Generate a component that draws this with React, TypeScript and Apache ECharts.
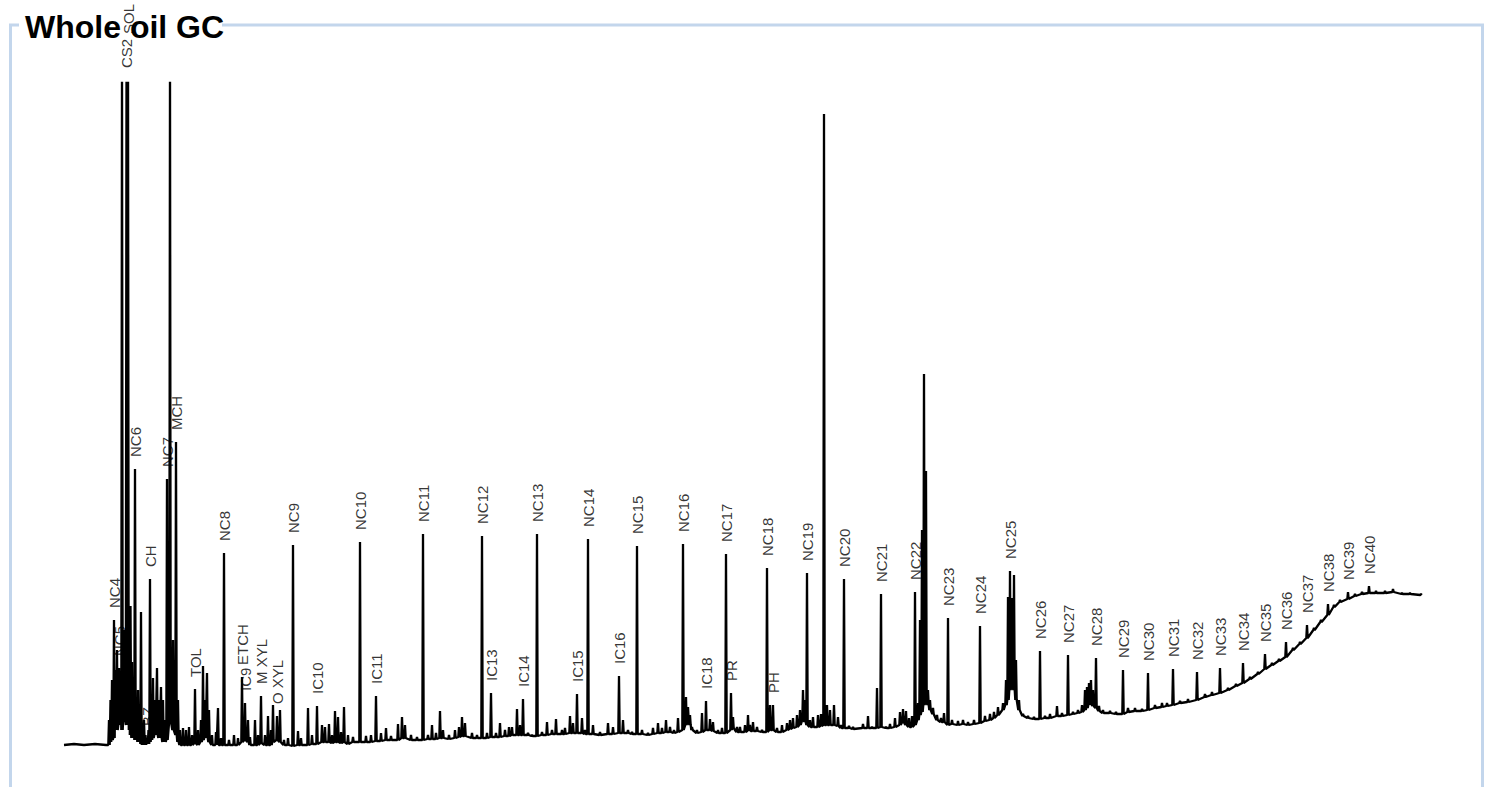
import React, { useEffect, useRef } from "react";
import * as echarts from "echarts";

// Whole-oil GC trace. x: retention (scan units), y: detector response (arbitrary units)
const TITLE = "Whole oil GC";

// quiet baseline before the first peaks: [x, y]
const leadIn: [number, number][] = [
  [4, 5], [14, 6], [24, 5], [35, 6], [46, 5],
];

// peaks: [x, base, top, label?]
const peaks: [number, number, number, string?][] = [
  [49, 5, 30], [50.5, 8, 50], [52, 10, 70], [54, 12, 130, "NC4"], [55.5, 25, 80], [57, 20, 100],
  [59, 25, 82, "NC5"], [60.5, 30, 75], [62, 20, 690], [64, 35, 120], [66.5, 25, 670, "CS2"],
  [68, 30, 704, "SOL"], [69.5, 20, 60], [70.5, 15, 144], [72, 12, 88], [73.5, 15, 70],
  [75, 10, 281, "NC6"], [76.5, 10, 45], [78, 8, 60], [79.5, 8, 30], [81, 6, 138], [82.5, 5, 25],
  [84, 5, 30], [85.5, 5, 15], [87, 7, 12, "BZ"], [88.5, 6, 20],
  [90, 8, 171, "CH"], [91.5, 10, 40], [93, 12, 72], [95, 15, 50], [97, 15, 82], [99, 12, 50], [101, 12, 63],
  [103, 8, 50], [105, 8, 30], [107, 10, 271, "NC7"], [110, 30, 690], [113, 20, 110], [116, 15, 308, "MCH"],
  [118, 8, 50], [120, 5, 20], [123, 5, 22], [126, 5, 20], [129, 5, 23], [132, 5, 15],
  [135, 7, 61, "TOL"], [138, 5, 20], [141, 8, 30], [143, 10, 84], [145, 12, 50], [147, 12, 77],
  [149, 8, 40], [152, 5, 15], [156, 5, 18], [158, 5, 42], [161, 5, 12], [164, 5, 197, "NC8"],
  [169, 5, 10], [174, 5, 15], [178, 5, 12], [182, 8, 73, "ETCH"], [185, 10, 47, "IC9"],
  [188, 8, 30], [190, 5, 13], [195, 5, 30], [198, 5, 15], [201, 7, 54, "M XYL"], [205, 5, 15],
  [208, 5, 34], [211, 5, 20], [213, 8, 45], [217, 10, 34, "O XYL"], [220, 8, 40], [224, 5, 10],
  [228, 5, 12], [233, 4, 205, "NC9"], [238, 5, 19], [241, 5, 12], [248, 5, 42], [252, 6, 15],
  [257, 6, 44, "IC10"], [262, 8, 25], [265, 8, 23], [269, 8, 26], [272, 7, 15], [275, 8, 39],
  [278, 8, 33], [281, 7, 18], [284, 8, 43], [288, 6, 15], [293, 8, 13], [300, 8, 208, "NC10"],
  [306, 8, 14], [311, 8, 15], [316, 9, 54, "IC11"], [321, 9, 17], [326, 10, 22], [331, 10, 14],
  [338, 10, 26], [342, 12, 33], [345, 12, 25], [351, 10, 15], [357, 10, 13], [363, 10, 216, "NC11"],
  [368, 11, 15], [372, 11, 25], [376, 11, 17], [380, 12, 39], [383, 12, 20], [389, 11, 15],
  [395, 12, 20], [399, 13, 23], [402, 14, 33], [405, 14, 27], [412, 12, 17], [417, 12, 15],
  [422, 12, 214, "NC12"], [427, 12, 17], [431, 13, 57, "IC13"], [436, 13, 17], [440, 13, 27],
  [445, 14, 20], [449, 14, 23], [452, 15, 23], [457, 15, 41], [460, 15, 25], [463, 15, 51, "IC14"],
  [468, 15, 17], [472, 14, 15], [477, 14, 216, "NC13"], [482, 15, 18], [487, 15, 28], [492, 16, 20],
  [496, 16, 31], [502, 16, 20], [505, 16, 22], [510, 17, 34], [513, 17, 27], [517, 17, 56, "IC15"],
  [522, 17, 32], [525, 16, 20], [528, 16, 211, "NC14"], [533, 16, 25], [540, 15, 18], [548, 16, 27],
  [553, 16, 23], [559, 17, 74, "IC16"], [563, 17, 30], [568, 17, 20], [572, 16, 18],
  [577, 16, 204, "NC15"], [582, 16, 20], [588, 15, 17], [593, 16, 22], [598, 17, 27], [602, 17, 22],
  [606, 18, 30], [610, 18, 23], [614, 17, 20], [618, 18, 32], [623, 20, 206, "NC16"], [626, 25, 53],
  [628, 30, 43], [630, 25, 35], [632, 20, 23], [637, 17, 20], [642, 18, 37], [646, 20, 49, "IC18"],
  [650, 20, 31], [653, 19, 28], [658, 17, 20], [662, 17, 22], [666, 17, 196, "NC17"],
  [671, 20, 57, "PR"], [673, 22, 33], [677, 18, 23], [680, 18, 23], [685, 18, 25], [688, 19, 35],
  [690, 19, 25], [693, 19, 28], [697, 19, 23], [702, 18, 20], [707, 18, 182, "NC18"], [710, 20, 45],
  [713, 20, 45, "PH"], [717, 18, 22], [722, 18, 25], [727, 20, 27], [730, 21, 30], [733, 22, 32],
  [737, 23, 35], [740, 25, 40], [743, 30, 60], [745, 28, 50], [747, 25, 177, "NC19"], [750, 23, 30],
  [753, 23, 33], [758, 23, 35], [761, 24, 36], [764, 25, 636], [767, 25, 45], [770, 25, 40],
  [774, 25, 45], [778, 24, 33], [781, 22, 25], [784, 22, 171, "NC20"], [789, 22, 24], [793, 21, 23],
  [803, 22, 26], [808, 22, 34], [812, 22, 23], [817, 22, 62], [821, 23, 156, "NC21"], [826, 22, 23],
  [830, 22, 26], [835, 23, 32], [840, 25, 38], [843, 28, 41], [846, 25, 39], [849, 23, 32],
  [852, 23, 34], [855, 25, 158, "NC22"], [858, 30, 47], [860, 35, 130], [862, 38, 220], [864, 45, 376],
  [866, 50, 279], [868, 45, 60], [870, 40, 50], [873, 36, 42], [877, 30, 35], [881, 28, 32],
  [884, 28, 37], [888, 25, 132, "NC23"], [892, 26, 30], [898, 25, 29], [903, 26, 30], [908, 25, 28],
  [914, 26, 30], [920, 27, 124, "NC24"], [925, 29, 34], [930, 30, 36], [934, 32, 38], [938, 35, 43],
  [943, 40, 47], [946, 45, 70], [948, 50, 153], [950, 60, 179, "NC25"], [952, 65, 152], [954, 60, 175],
  [956, 50, 90], [959, 40, 50], [963, 34, 36], [968, 32, 34], [974, 31, 33], [980, 31, 99, "NC26"],
  [985, 32, 34], [990, 32, 36], [997, 34, 44], [1002, 34, 37], [1008, 35, 95, "NC27"], [1013, 36, 38],
  [1018, 37, 40], [1022, 38, 45], [1025, 40, 60], [1027, 42, 63], [1029, 45, 67], [1031, 45, 70],
  [1033, 44, 60], [1036, 42, 92, "NC28"], [1039, 39, 44], [1043, 37, 40], [1050, 37, 39],
  [1056, 36, 38], [1063, 36, 80, "NC29"], [1068, 38, 42], [1075, 39, 42], [1082, 39, 41],
  [1088, 40, 77, "NC30"], [1095, 42, 45], [1102, 43, 47], [1107, 44, 47], [1113, 45, 81, "NC31"],
  [1120, 47, 49], [1128, 48, 51], [1137, 50, 78, "NC32"], [1145, 53, 56], [1152, 55, 58],
  [1160, 57, 82, "NC33"], [1168, 60, 62], [1176, 64, 66], [1183, 67, 87, "NC34"], [1190, 71, 73],
  [1198, 76, 78], [1205, 81, 96, "NC35"], [1212, 85, 87], [1219, 89, 91], [1226, 93, 108, "NC36"],
  [1233, 100, 102], [1240, 106, 108], [1247, 112, 125, "NC37"], [1254, 120, 122], [1261, 128, 130],
  [1268, 135, 146, "NC38"], [1274, 143, 145], [1280, 148, 150], [1288, 151, 158, "NC39"],
  [1295, 154, 156], [1302, 156, 158], [1309, 157, 164, "NC40"], [1316, 157, 159], [1325, 157, 159],
  [1333, 158, 161], [1342, 156, 157], [1350, 156, 157], [1361, 155, 156],
];

const X_MAX = 1365;
const Y_MAX = 667;

export default function App() {
  const ref = useRef<HTMLDivElement>(null);
  useEffect(() => {
    if (!ref.current) return;
    const chart = echarts.init(ref.current, undefined, { renderer: "svg" });
    const trace: number[][] = leadIn.map((p) => [p[0], p[1]]);
    for (const [x, b, t] of peaks) {
      trace.push([x - 0.7, b], [x, t], [x + 0.7, b]);
    }
    const labelled = peaks
      .filter((p) => p[3])
      .map((p) => ({ name: p[3] as string, value: [p[0], p[2]] }));
    const border = "#c3d6ec";
    chart.setOption({
      animation: false,
      backgroundColor: "#fff",
      grid: { left: 60, right: 62, top: 83, bottom: 37 },
      xAxis: { type: "value", min: 0, max: X_MAX, show: false },
      yAxis: { type: "value", min: 0, max: Y_MAX, show: false },
      graphic: [
        {
          type: "polyline",
          z: -1,
          shape: { points: [[10.5, 800], [10.5, 25], [19, 25]] },
          style: { stroke: border, lineWidth: 3, fill: null },
        },
        {
          type: "polyline",
          z: -1,
          shape: { points: [[222, 25], [1482.5, 25], [1482.5, 800]] },
          style: { stroke: border, lineWidth: 3, fill: null },
        },
        {
          type: "text",
          z: -1,
          x: 25,
          y: 27,
          style: {
            text: TITLE,
            fill: "#000",
            font: 'bold 32px "Liberation Sans", Arial, Helvetica, sans-serif',
            verticalAlign: "middle",
          },
        },
      ],
      series: [
        {
          type: "line",
          data: trace,
          showSymbol: false,
          silent: true,
          lineStyle: { color: "#000", width: 2.3 },
          z: 2,
        },
        {
          type: "scatter",
          data: labelled,
          symbolSize: 0,
          clip: false,
          silent: true,
          z: 5,
          label: {
            show: true,
            formatter: "{b}",
            position: "top",
            distance: 12,
            rotate: 90,
            align: "left",
            verticalAlign: "middle",
            color: "#000",
            fontSize: 15,
            fontFamily: '"Liberation Sans", Arial, Helvetica, sans-serif',
          },
        },
      ],
    });
    return () => chart.dispose();
  }, []);
  return (
    <div
      ref={ref}
      style={{ position: "fixed", left: 0, top: 0, width: "1487px", height: "787px" }}
    />
  );
}
